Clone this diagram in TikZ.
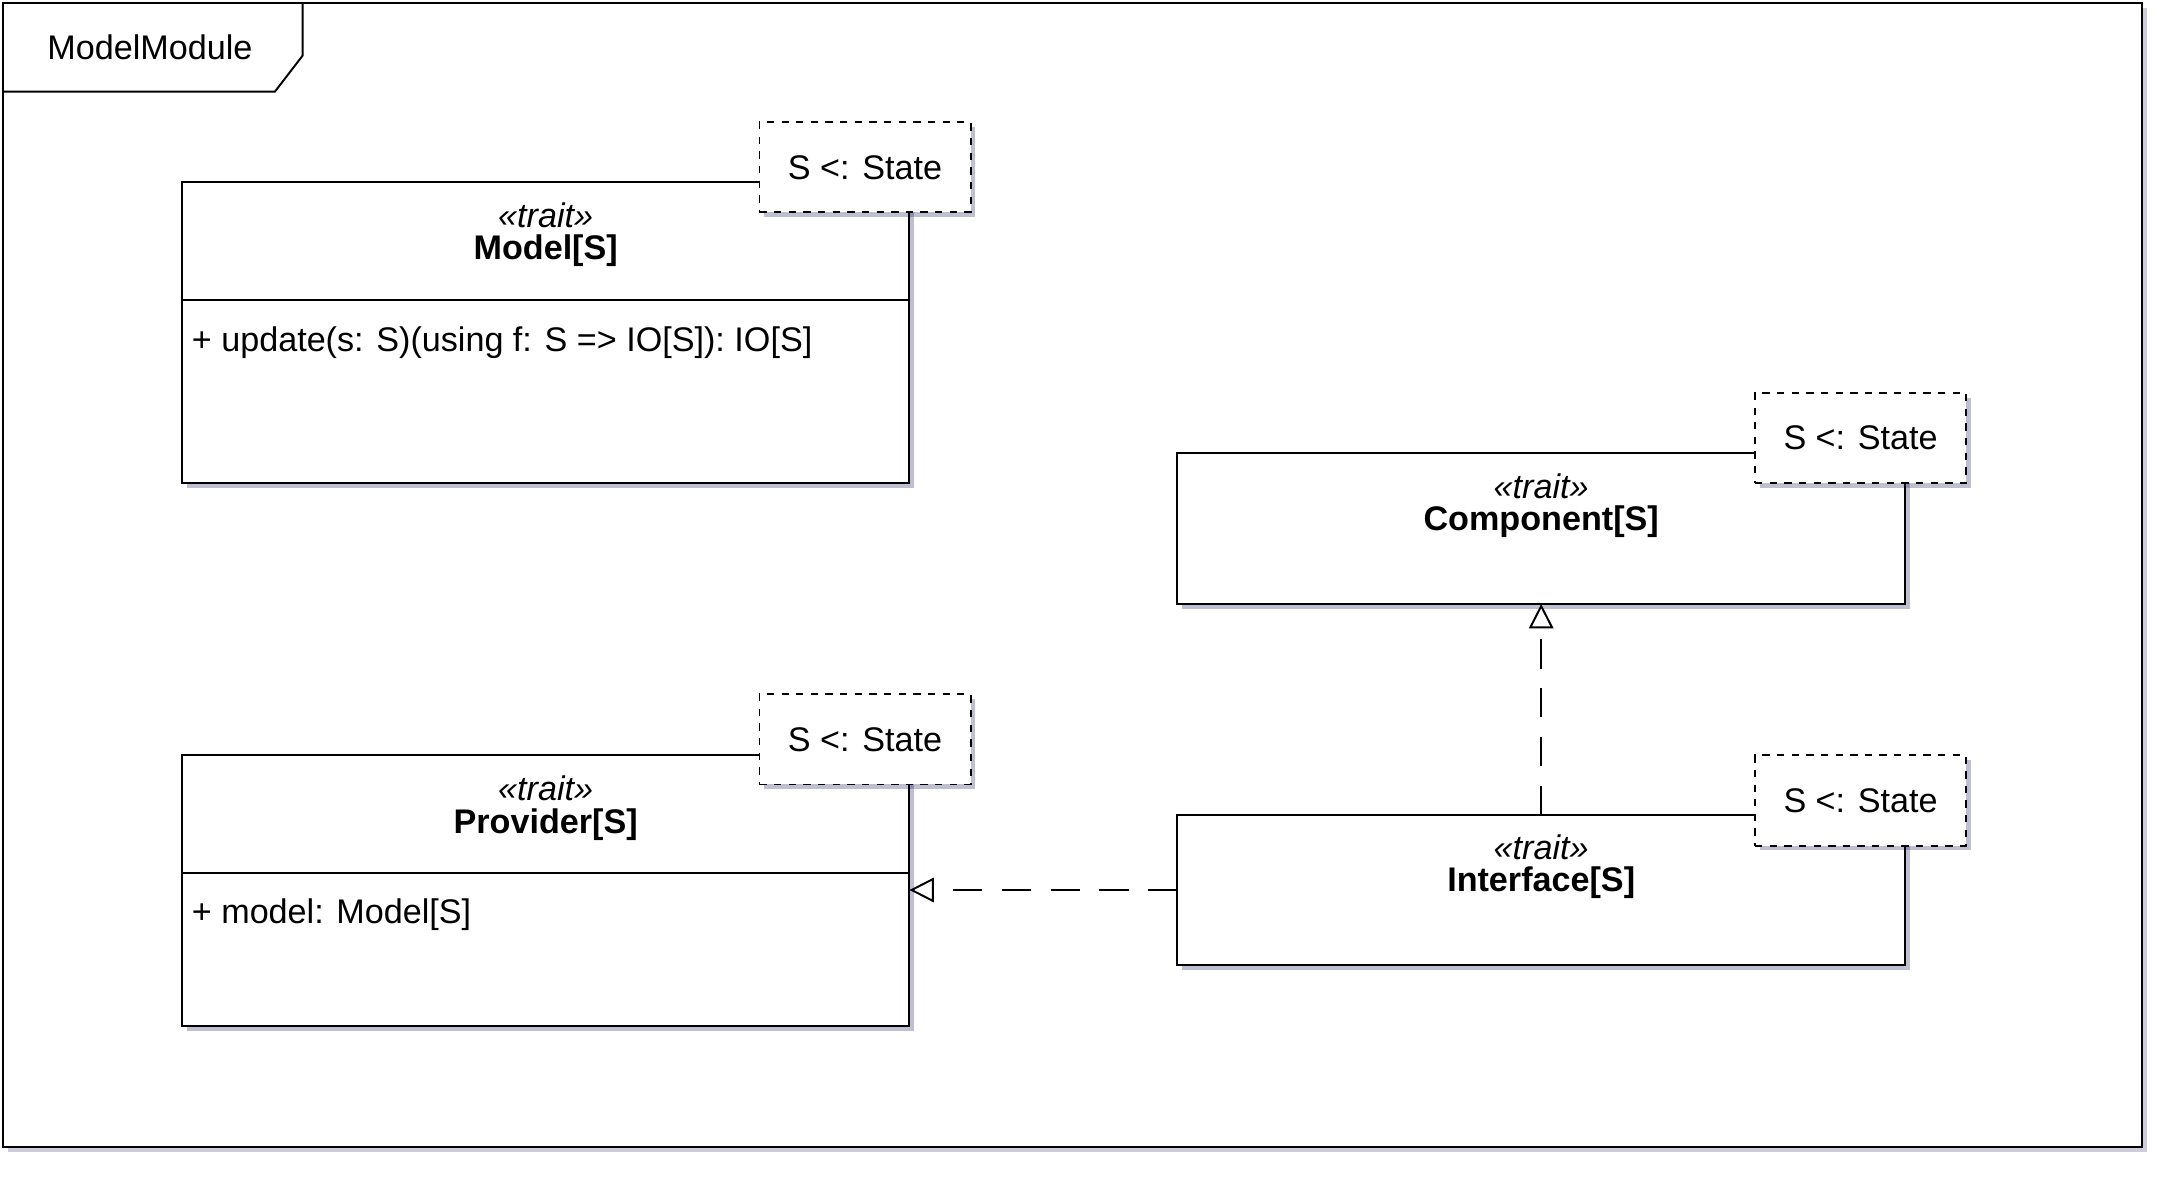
\documentclass[tikz,border=0pt]{standalone}
\usepackage{fontspec}
\setmainfont{Liberation Sans}
\usetikzlibrary{positioning, shadows, arrows.meta}

\begin{document}
\begin{tikzpicture}[x=0.02cm, y=-0.02cm, font=\fontsize{14}{16}\selectfont]

  \tikzstyle{trait}=[draw, thick, fill=white, drop shadow={shadow xshift=2pt, shadow yshift=-2pt, fill=blue!30!black, opacity=.25}]
  \tikzstyle{param}=[draw, thick, dashed, fill=white, drop shadow={shadow xshift=2pt, shadow yshift=-2pt, fill=blue!30!black, opacity=.25}]
  \tikzstyle{realize}=[thick, dash pattern=on 12pt off 8pt, -{Triangle[open, length=10pt, width=10pt]}]

  \useasboundingbox (0,0) rectangle (1560,847);

  % frame
  \draw [thick, fill=white, drop shadow={shadow xshift=2pt, shadow yshift=-2pt, fill=blue!30!black, opacity=.2}] (2,2) rectangle (1543,826);
  \draw [thick] (2,66) -- (198,66) -- (218,40) -- (218,2);
  \node (frame) at (108,34) {ModelModule};

  % Model
  \draw [trait] (131,131) rectangle (655,348);
  \draw [thick] (131,216) -- (655,216);
  \node (model-st) at (393,155) {\textit{<<trait>>}};
  \node [below = -4pt of model-st] (model) {\textbf{Model[S]}};
  \node [anchor=west] (model-op) at (132,247) {+ update(s: S)(using f: S => IO[S]): IO[S]};
  \node [param, minimum width=152*0.02cm, minimum height=65*0.02cm] (model-p) at (623,120.5) {S <: State};

  % Component
  \draw [trait] (848,326) rectangle coordinate (comp-c) (1372,435);
  \coordinate (comp-b) at (1110,435);
  \node (comp-st) at (1110,350) {\textit{<<trait>>}};
  \node [below = -4pt of comp-st] (comp) {\textbf{Component[S]}};
  \node [param, minimum width=152*0.02cm, minimum height=65*0.02cm] (comp-p) at (1340,315.5) {S <: State};

  % Provider
  \draw [trait] (131,544) rectangle (655,739);
  \draw [thick] (131,629) -- (655,629);
  \coordinate (prov-r) at (655,641);
  \node (prov-st) at (393,568) {\textit{<<trait>>}};
  \node [below = -4pt of prov-st] (prov) {\textbf{Provider[S]}};
  \node [anchor=west] (prov-at) at (132,659) {+ model: Model[S]};
  \node [param, minimum width=152*0.02cm, minimum height=65*0.02cm] (prov-p) at (623,532.5) {S <: State};

  % Interface
  \draw [trait] (848,587) rectangle (1372,695);
  \coordinate (intf-t) at (1110,587);
  \coordinate (intf-l) at (848,641);
  \node (intf-st) at (1110,610) {\textit{<<trait>>}};
  \node [below = -4pt of intf-st] (intf) {\textbf{Interface[S]}};
  \node [param, minimum width=152*0.02cm, minimum height=65*0.02cm] (intf-p) at (1340,576.5) {S <: State};

  \draw [realize] (intf-t) -- (comp-b);
  \draw [realize] (intf-l) -- (prov-r);

\end{tikzpicture}
\end{document}
